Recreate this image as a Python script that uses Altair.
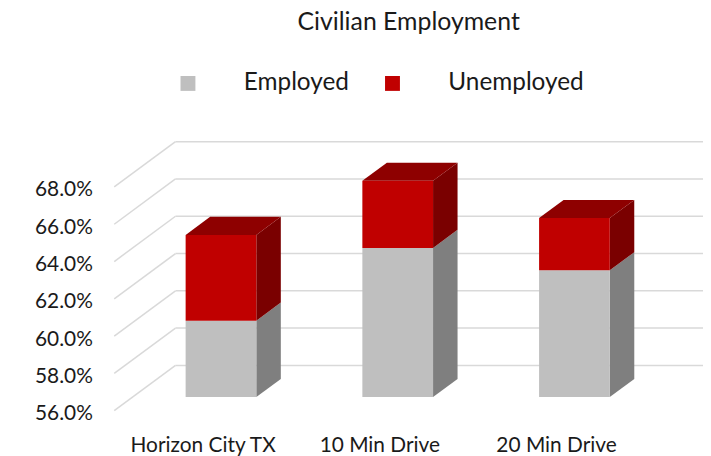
import altair as alt
import pandas as pd

categories = ["Horizon City TX", "10 Min Drive", "20 Min Drive"]
series = ["Employed", "Unemployed"]
employed = [60.1, 64.0, 62.8]
unemployed = [4.6, 3.6, 2.8]
y_ticks = [56, 58, 60, 62, 64, 66, 68]
title_text = "Civilian Employment"

# 3-D geometry (in data units)
BASE = 56.0
DX = 0.3466
DY = 2.43
D_FRONT, D_BACK = 0.30, 0.70
HALF = 0.2
PX_PER_CAT = 178.0
PLOT_W = 593
PLOT_H = 271
X_MIN = -0.5
X_MAX = X_MIN + PLOT_W / PX_PER_CAT
Y_MAX = y_ticks[-1] + DY

FONT = "Lato"
TEXT_COLOR = "#1a1a1a"
front_colors = ["#BFBFBF", "#C00000"]
side_colors = {"Employed": "#7F7F7F", "Unemployed": "#7A0000"}
top_colors = {"Employed": "#A5A5A5", "Unemployed": "#8E0000"}

values = {"Employed": employed, "Unemployed": unemployed}

front_rows, side_rows, top_rows = [], [], []
for i, cat in enumerate(categories):
    cum = 0.0
    for k, s in enumerate(series):
        v = values[s][i]
        lo = max(cum, BASE)
        hi = cum + v
        cum = hi
        key = f"f{i}{k}"
        fdx, fdy = D_FRONT * DX, D_FRONT * DY
        bdx, bdy = D_BACK * DX, D_BACK * DY
        front_rows.append(dict(key=key, series=s, cat=cat,
                               x=i - HALF + fdx, x2=i + HALF + fdx,
                               y=lo + fdy, y2=hi + fdy))
        side_rows.append(dict(key=key, series=s, x=i + HALF + fdx, ylo=lo + fdy, yhi=hi + fdy))
        side_rows.append(dict(key=key, series=s, x=i + HALF + bdx, ylo=lo + bdy, yhi=hi + bdy))
        if k == len(series) - 1:
            top_rows.append(dict(key=key, series=s, y=hi + fdy, xl=i - HALF + fdx, xr=i + HALF + fdx))
            top_rows.append(dict(key=key, series=s, y=hi + bdy, xl=i - HALF + bdx, xr=i + HALF + bdx))

grid_diag = pd.DataFrame([dict(x=X_MIN, x2=X_MIN + DX, y=t, y2=t + DY) for t in y_ticks])
grid_back = pd.DataFrame([dict(x=X_MIN + DX, x2=X_MAX, y=t + DY, y2=t + DY) for t in y_ticks])
front_df = pd.DataFrame(front_rows)
side_df = pd.DataFrame(side_rows)
top_df = pd.DataFrame(top_rows)

xscale = alt.Scale(domain=[X_MIN, X_MAX], nice=False, zero=False)
yscale = alt.Scale(domain=[BASE, Y_MAX], nice=False, zero=False)

label_arr = "[" + ",".join("'" + c + "'" for c in categories) + "]"
xaxis = alt.Axis(values=list(range(len(categories))), labelExpr=label_arr + "[datum.value]",
                 domain=False, ticks=False, grid=False, title=None, labelFont=FONT,
                 labelFontSize=21, labelColor=TEXT_COLOR, labelPadding=41,
                 labelBaseline="alphabetic",
                 labelOverlap=False, labelFlush=False)
yaxis = alt.Axis(values=y_ticks, labelExpr="format(datum.value, '.1f') + '%'",
                 domain=False, ticks=False, tickSize=0, grid=False, title=None,
                 labelFont=FONT, labelFontSize=21, labelColor=TEXT_COLOR,
                 labelPadding=22, labelOffset=3, labelOverlap=False, labelFlush=False)

GRID_COLOR = "#D9D9D9"
diag = alt.Chart(grid_diag).mark_rule(color=GRID_COLOR, strokeWidth=1.5).encode(
    x=alt.X("x:Q", scale=xscale, axis=xaxis), x2="x2:Q",
    y=alt.Y("y:Q", scale=yscale, axis=yaxis), y2="y2:Q")
back = alt.Chart(grid_back).mark_rule(color=GRID_COLOR, strokeWidth=1.5).encode(
    x=alt.X("x:Q", scale=xscale, axis=xaxis), x2="x2:Q",
    y=alt.Y("y:Q", scale=yscale, axis=yaxis), y2="y2:Q")

layers = [diag, back]
for row in front_rows:
    key, s = row["key"], row["series"]
    layers.append(
        alt.Chart(side_df).transform_filter(alt.datum.key == key).mark_area(
            color=side_colors[s], opacity=1, orient="vertical").encode(
            x=alt.X("x:Q", scale=xscale, axis=xaxis),
            y=alt.Y("ylo:Q", scale=yscale, axis=yaxis), y2="yhi:Q"))
    if s == series[-1]:
        layers.append(
            alt.Chart(top_df).transform_filter(alt.datum.key == key).mark_area(
                color=top_colors[s], opacity=1, orient="horizontal").encode(
                y=alt.Y("y:Q", scale=yscale, axis=yaxis),
                x=alt.X("xl:Q", scale=xscale, axis=xaxis), x2="xr:Q"))

front = alt.Chart(front_df).mark_rect(opacity=1).encode(
    x=alt.X("x:Q", scale=xscale, axis=xaxis), x2="x2:Q",
    y=alt.Y("y:Q", scale=yscale, axis=yaxis), y2="y2:Q",
    color=alt.Color("series:N", scale=alt.Scale(domain=series, range=front_colors),
                    legend=alt.Legend(title=None, orient="none", legendX=62, legendY=-71,
                                      direction="horizontal", symbolType="square",
                                      symbolSize=225, symbolStrokeWidth=0,
                                      labelFont=FONT, labelFontSize=24.5, labelColor=TEXT_COLOR,
                                      labelOffset=44, columnPadding=31, padding=0)))
layers.append(front)

chart = alt.layer(*layers).properties(
    width=PLOT_W, height=PLOT_H,
    autosize=alt.AutoSizeParams(type="none"),
    padding={"left": 107, "top": 133, "right": 0, "bottom": 44},
    title=alt.TitleParams(title_text, anchor="middle", frame="group", font=FONT,
                          fontSize=25, fontWeight="normal", color=TEXT_COLOR, offset=16,
                          baseline="alphabetic"),
).configure_view(stroke=None)

chart.save("out.html", embed_options={"renderer": "svg", "actions": False})
